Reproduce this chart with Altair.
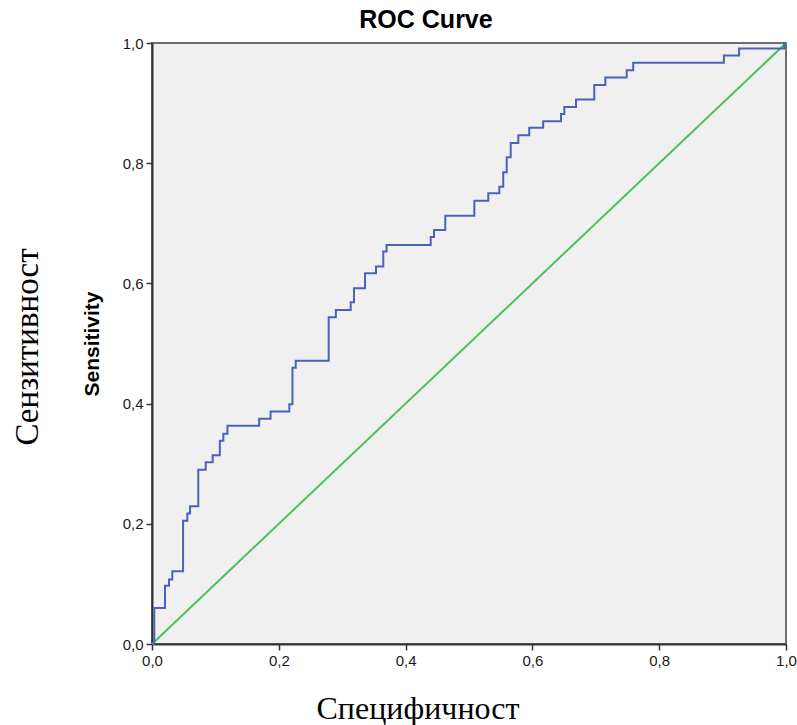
import altair as alt
import pandas as pd

# ROC step points (1 - specificity, sensitivity)
fpr = [0.0036, 0.0205, 0.0268, 0.032, 0.049, 0.0557, 0.060, 0.073, 0.0847, 0.0957,
       0.107, 0.1125, 0.119, 0.169, 0.187, 0.2166, 0.2216, 0.2267, 0.2787, 0.290,
       0.3134, 0.3186, 0.336, 0.3533, 0.3648, 0.370, 0.4396, 0.4448, 0.4626, 0.5084,
       0.5304, 0.5478, 0.554, 0.5595, 0.5658, 0.5778, 0.595, 0.617, 0.6451, 0.6503,
       0.6688, 0.6976, 0.715, 0.7487, 0.759, 0.902, 0.926, 0.997, 1.0]
tpr = [0.060, 0.097, 0.1075, 0.121, 0.205, 0.217, 0.229, 0.290, 0.3025, 0.314,
       0.338, 0.350, 0.363, 0.375, 0.387, 0.399, 0.4597, 0.4713, 0.5437, 0.5558,
       0.5687, 0.592, 0.617, 0.628, 0.653, 0.664, 0.677, 0.689, 0.7125, 0.7375,
       0.750, 0.761, 0.785, 0.8097, 0.8337, 0.8463, 0.859, 0.870, 0.882, 0.8937,
       0.906, 0.930, 0.9425, 0.9547, 0.967, 0.979, 0.991, 1.0, 1.0]

ref_x = [0.0, 1.0]
ref_y = [0.0, 1.0]

title_text = "ROC Curve"
y_title = "Sensitivity"
left_label = "Сензитивност"
bottom_label = "Специфичност"

# build step polyline from the step list
xs, ys = [0.0], [0.0]
prev_y = 0.0
for fx, fy in zip(fpr, tpr):
    xs.append(fx); ys.append(prev_y)
    xs.append(fx); ys.append(fy)
    prev_y = fy
roc = pd.DataFrame({"x": xs, "y": ys, "i": range(len(xs))})
ref = pd.DataFrame({"x": ref_x, "y": ref_y, "i": [0, 1]})

lab = "replace(format(datum.value, '.1f'), '.', ',')"
xscale = alt.Scale(domain=[0, 1], nice=False, zero=False)
yscale = alt.Scale(domain=[0, 1], nice=False, zero=False)

xaxis = alt.Axis(values=[0, 0.2, 0.4, 0.6, 0.8, 1.0], labelExpr=lab, title=None,
                 grid=False, tickSize=6, labelPadding=3, labelFlush=False, labelOverlap=False)
yaxis = alt.Axis(values=[0, 0.2, 0.4, 0.6, 0.8, 1.0], labelExpr=lab, title=y_title,
                 grid=False, tickSize=6, labelPadding=3, titlePadding=20,
                 labelFlush=False, labelOverlap=False,
                 titleFontWeight="bold", titleFontSize=21, titleFont="Liberation Sans",
                 titleColor="#000")

ref_line = alt.Chart(ref).mark_line(color="#4cc15a", strokeWidth=2).encode(
    x=alt.X("x:Q", scale=xscale, axis=xaxis),
    y=alt.Y("y:Q", scale=yscale, axis=yaxis),
    order="i:Q",
)
roc_line = alt.Chart(roc).mark_line(color="#4a63b9", strokeWidth=2, interpolate="linear").encode(
    x=alt.X("x:Q", scale=xscale),
    y=alt.Y("y:Q", scale=yscale),
    order="i:Q",
)

txt_df = pd.DataFrame({"t": [left_label]})
left_txt = alt.Chart(txt_df).mark_text(
    font="Liberation Serif", fontSize=33, angle=270, align="center", baseline="middle", color="#000"
).encode(text="t:N", x=alt.value(-124), y=alt.value(304))

bot_df = pd.DataFrame({"t": [bottom_label]})
bot_txt = alt.Chart(bot_df).mark_text(
    font="Liberation Serif", fontSize=32, align="center", baseline="middle", color="#000"
).encode(text="t:N", x=alt.value(266), y=alt.value(666))

chart = alt.layer(ref_line, roc_line, left_txt, bot_txt).properties(
    width=634, height=601,
    background="white",
    title=alt.TitleParams(title_text, fontSize=25, fontWeight="bold", font="Liberation Sans",
                          anchor="middle", offset=3, dx=-43, color="#000"),
    autosize=alt.AutoSizeParams(type="none"),
    padding={"left": 152, "top": 43, "right": 11, "bottom": 81},
).configure_view(
    fill="#f0f0f0", stroke="#6e6e6e", strokeWidth=2
).configure_axis(
    domainColor="#333333", domainWidth=2, tickColor="#333333", tickWidth=1.5,
    labelFont="Liberation Sans", labelFontSize=15, labelColor="#1a1a1a"
)

chart.save("out.html", embed_options={"renderer": "svg", "actions": False})
